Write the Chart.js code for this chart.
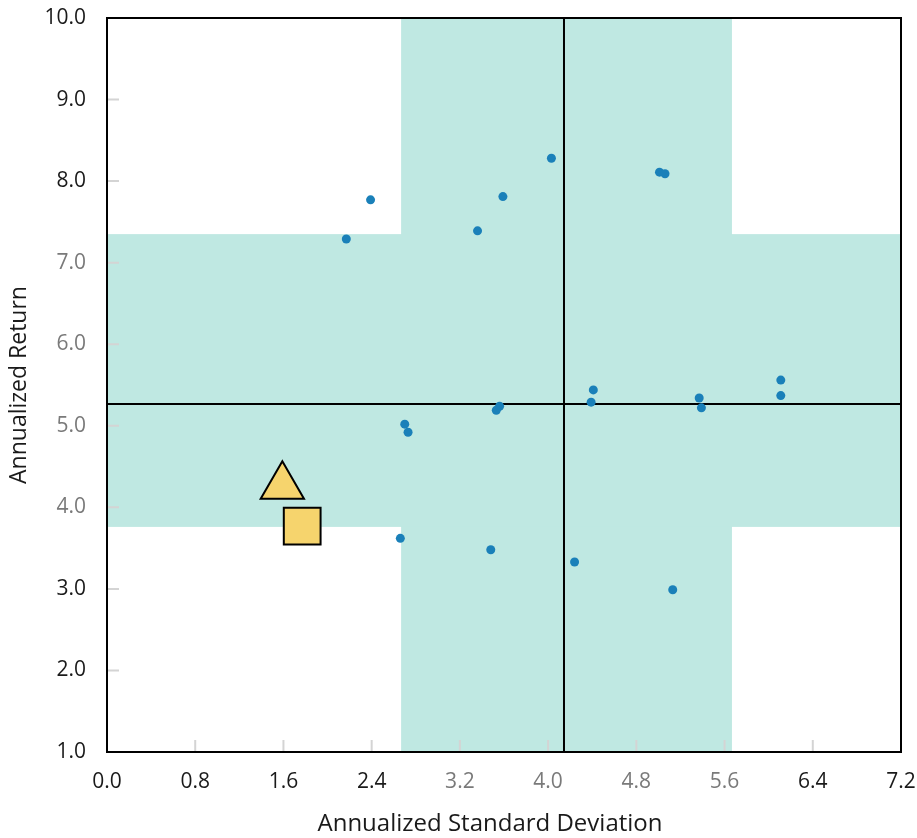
<!DOCTYPE html>
<html>
<head>
<meta charset="utf-8">
<script src="https://cdn.jsdelivr.net/npm/chart.js@4.4.0/dist/chart.umd.min.js"></script>
<style>
html, body { margin: 0; padding: 0; background: #fff; }
#wrap { width: 917px; height: 838px; }
</style>
</head>
<body>
<div id="wrap"><canvas id="myChart" width="917" height="838"></canvas></div>
<script>
// fund scatter (risk = annualized std dev, return = annualized return)
var fundRisk   = [2.17, 2.39, 3.36, 3.59, 4.03, 5.01, 5.06, 4.41, 4.39, 3.56, 3.53, 2.70, 2.73, 5.37, 5.39, 6.11, 6.11, 2.66, 3.48, 4.24, 5.13];
var fundReturn = [7.29, 7.77, 7.39, 7.81, 8.28, 8.11, 8.09, 5.44, 5.29, 5.24, 5.19, 5.02, 4.92, 5.34, 5.22, 5.56, 5.37, 3.62, 3.48, 3.33, 2.99];
var triRisk = [1.59];
var triReturn = [4.26];
var sqRisk = [1.77];
var sqReturn = [3.77];
// shaded cross and the two average lines
var bandRisk = [2.667, 5.667];
var bandReturn = [3.76, 7.35];
var avgRisk = 4.144;
var avgReturn = 5.267;
var xMin = 0, xMax = 7.2, xStep = 0.8;
var yMin = 1, yMax = 10, yStep = 1;
var xTitle = 'Annualized Standard Deviation';
var yTitle = 'Annualized Return';

function toPts(xs, ys) {
    return xs.map(function(v, i) { return { x: v, y: ys[i] }; });
}

var black = '#1a1a1a';
var grey = '#7a7a7a';
var fontFamily = "'Open Sans', 'Noto Sans', sans-serif";

var backdrop = {
    id: 'backdrop',
    beforeDatasetsDraw: function(chart) {
        var c = chart.ctx, a = chart.chartArea;
        var x = chart.scales.x, y = chart.scales.y;
        c.save();
        c.fillStyle = '#bfe8e2';
        var x0 = x.getPixelForValue(bandRisk[0]), x1 = x.getPixelForValue(bandRisk[1]);
        var y0 = y.getPixelForValue(bandReturn[1]), y1 = y.getPixelForValue(bandReturn[0]);
        c.fillRect(x0, a.top, x1 - x0, a.bottom - a.top);
        c.fillRect(a.left, y0, a.right - a.left, y1 - y0);
        // short inward tick marks
        c.strokeStyle = '#d4d4d4';
        c.lineWidth = 2;
        c.beginPath();
        x.ticks.forEach(function(t) {
            var px = x.getPixelForValue(t.value);
            c.moveTo(px, a.bottom);
            c.lineTo(px, a.bottom - 12);
        });
        y.ticks.forEach(function(t) {
            var py = y.getPixelForValue(t.value);
            c.moveTo(a.left, py);
            c.lineTo(a.left + 12, py);
        });
        c.stroke();
        // average lines
        c.strokeStyle = '#000';
        c.lineWidth = 2;
        c.beginPath();
        var ax = x.getPixelForValue(avgRisk), ay = y.getPixelForValue(avgReturn);
        c.moveTo(ax, a.top);
        c.lineTo(ax, a.bottom);
        c.moveTo(a.left, ay);
        c.lineTo(a.right, ay);
        c.stroke();
        c.restore();
    },
    afterDraw: function(chart) {
        var c = chart.ctx, a = chart.chartArea;
        c.save();
        c.strokeStyle = '#000';
        c.lineWidth = 2;
        c.strokeRect(a.left, a.top, a.right - a.left, a.bottom - a.top);
        // x title sits a little left of the plot centre in the original
        c.fillStyle = black;
        c.font = '24px ' + fontFamily;
        c.textAlign = 'center';
        c.textBaseline = 'middle';
        c.fillText(xTitle, (a.left + a.right) / 2 - 14, chart.height - 14);
        c.restore();
    }
};

Chart.defaults.font.family = fontFamily;

var ctx = document.getElementById('myChart');
var myChart = new Chart(ctx, {
    type: 'scatter',
    data: {
        datasets: [{
            data: toPts(fundRisk, fundReturn),
            backgroundColor: '#1a80b9',
            borderWidth: 0,
            pointRadius: 4.5
        }, {
            data: toPts(triRisk, triReturn),
            pointStyle: 'triangle',
            backgroundColor: '#f6d46d',
            borderColor: '#000',
            borderWidth: 2,
            pointRadius: 25
        }, {
            data: toPts(sqRisk, sqReturn),
            pointStyle: 'rect',
            backgroundColor: '#f6d46d',
            borderColor: '#000',
            borderWidth: 2,
            pointRadius: 26
        }]
    },
    options: {
        responsive: false,
        animation: false,
        layout: { autoPadding: false, padding: { top: 18, right: 16, left: 0, bottom: 0 } },
        plugins: { legend: { display: false }, tooltip: { enabled: false } },
        scales: {
            x: {
                type: 'linear',
                min: xMin, max: xMax,
                grid: { display: false, drawTicks: false },
                border: { display: false },
                ticks: {
                    stepSize: xStep,
                    padding: 17,
                    font: { size: 21 },
                    color: function(c) {
                        var v = c.tick.value;
                        return (v > bandRisk[0] && v < bandRisk[1]) ? grey : black;
                    },
                    callback: function(v) { return Number(v).toFixed(1); }
                },
                title: { display: false },
                afterFit: function(s) {
                    s.height = 86;
                    s.paddingLeft = 0;
                    s.paddingRight = 0;
                }
            },
            y: {
                type: 'linear',
                min: yMin, max: yMax,
                grid: { display: false, drawTicks: false },
                border: { display: false },
                ticks: {
                    stepSize: yStep,
                    padding: 21,
                    font: { size: 21 },
                    color: function(c) {
                        var v = c.tick.value;
                        return (v > bandReturn[0] && v < bandReturn[1]) ? grey : black;
                    },
                    callback: function(v) { return Number(v).toFixed(1); }
                },
                title: { display: true, text: yTitle, font: { size: 23 }, color: black, padding: { top: 6, bottom: 0 } },
                afterFit: function(s) {
                    s.width = 107;
                    s.paddingTop = 0;
                    s.paddingBottom = 0;
                }
            }
        }
    },
    plugins: [backdrop]
});
</script>
</body>
</html>
